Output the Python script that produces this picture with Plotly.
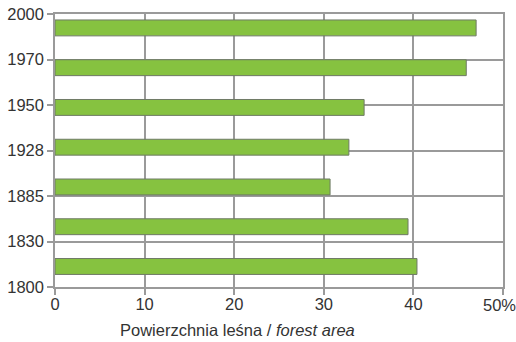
import plotly.graph_objects as go

# Forest cover share by year
years = ["1800", "1830", "1885", "1928", "1950", "1970", "2000"]
forest_pct = [40.4, 39.4, 30.7, 32.8, 34.5, 45.9, 47.0]
x_ticks = [0, 10, 20, 30, 40, 50]
x_ticktext = ["0", "10", "20", "30", "40", ""]
last_tick_label = "50%"
x_title = "Powierzchnia leśna / <i>forest area</i>"

font_family = "Liberation Sans, Arial, sans-serif"
grid_col = "#9a9a9a"
text_col = "#333333"
fs = 16.5

fig = go.Figure()
# empty trace keeps the year axis (gridlines + labels) drawn
fig.add_trace(go.Scatter(x=[None], y=[None], yaxis="y", hoverinfo="skip"))
fig.add_trace(go.Bar(
    x=forest_pct,
    y=list(range(len(years))),
    orientation="h",
    width=0.4,
    marker=dict(color="#86c240", line=dict(color="#6f7a66", width=1)),
    yaxis="y2",
    hoverinfo="skip",
))

# last x label nudged inward so it stays inside the page
fig.add_annotation(
    text=last_tick_label, x=x_ticks[-1], xref="x", y=0, yref="paper",
    xanchor="center", yanchor="top", xshift=-4, yshift=-7,
    showarrow=False, font=dict(size=fs, color=text_col),
)
# axis caption placed left of the plot centre
fig.add_annotation(
    text=x_title, x=0.408, xref="paper", y=0, yref="paper",
    xanchor="center", yanchor="middle", yshift=-43,
    showarrow=False, font=dict(size=fs, color=text_col),
)

fig.update_layout(
    width=516, height=342,
    margin=dict(l=55, r=13, t=14, b=55),
    paper_bgcolor="white", plot_bgcolor="white",
    showlegend=False,
    font=dict(family=font_family, size=fs, color=text_col),
    xaxis=dict(
        range=[0, 50], tickvals=x_ticks, ticktext=x_ticktext,
        showgrid=True, gridcolor=grid_col, gridwidth=1.5,
        showline=True, linecolor=grid_col, linewidth=1.5, mirror=True,
        ticks="outside", ticklen=6, tickcolor=grid_col, tickwidth=1.5,
        zeroline=False, ticklabelstandoff=-5, automargin=False,
        tickfont=dict(size=fs, color=text_col),
    ),
    yaxis=dict(
        range=[0, 6], tickvals=list(range(len(years))), ticktext=years,
        showgrid=True, gridcolor=grid_col, gridwidth=1.5,
        showline=True, linecolor=grid_col, linewidth=1.5, mirror=True,
        ticks="outside", ticklen=6, tickcolor=grid_col, tickwidth=1.5,
        zeroline=False, ticklabeloverflow="allow", automargin=False,
        tickfont=dict(size=fs, color=text_col),
    ),
    yaxis2=dict(
        range=[-0.516, 6.35], overlaying="y", visible=False,
        showgrid=False, zeroline=False, automargin=False,
    ),
)

fig.write_html("out.html")
